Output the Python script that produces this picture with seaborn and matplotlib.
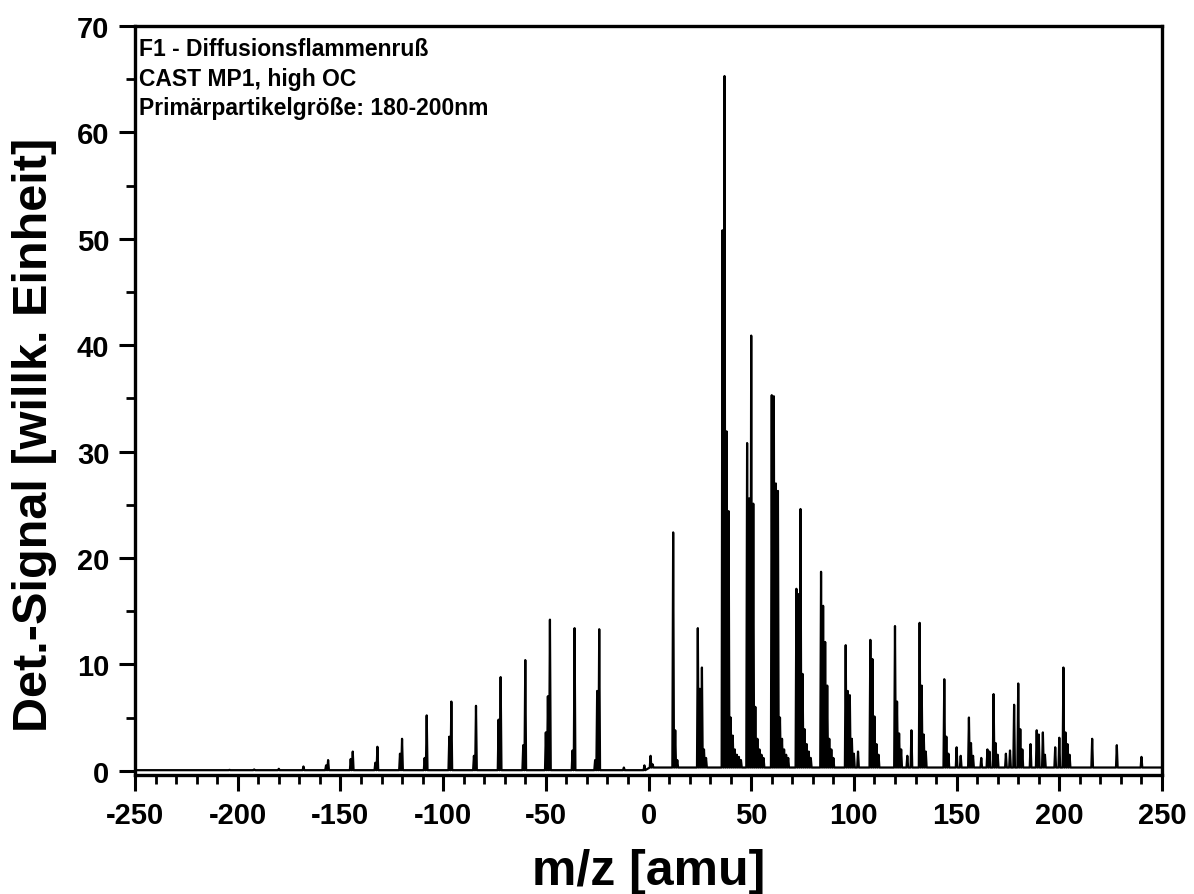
import numpy as np
import pandas as pd
import matplotlib
matplotlib.use("Agg")
import matplotlib.pyplot as plt
import seaborn as sns
from matplotlib.ticker import MultipleLocator

# picchi: m/z e altezza del segnale
mz_neg = [-204, -192, -180, -168, -157, -156, -145, -144, -133, -132, -121, -120,
          -109, -108, -97, -96, -85, -84, -73, -72, -61, -60, -50, -49, -48,
          -37, -36, -26, -25, -24, -12, -2]
h_neg = [0.08, 0.12, 0.18, 0.4, 0.5, 1.0, 1.1, 1.8, 0.75, 2.25, 1.6, 3.0,
         1.2, 5.2, 3.2, 6.5, 1.4, 6.1, 4.8, 8.8, 2.4, 10.4, 3.6, 7.0, 14.2,
         1.9, 13.4, 1.0, 7.5, 13.3, 0.3, 0.5]

mz_pos = [1, 2, 12, 13, 14, 24, 25, 26, 27, 28,
          36, 37, 38, 39, 40, 41, 42, 43, 44, 45,
          48, 49, 50, 51, 52, 53, 54, 55, 56,
          60, 61, 62, 63, 64, 65, 66, 67, 68,
          72, 73, 74, 75, 76, 77, 78, 79,
          84, 85, 86, 87, 88, 89, 90,
          96, 97, 98, 99, 100, 102,
          108, 109, 110, 111, 112,
          120, 121, 122, 123, 126, 128,
          132, 133, 134, 135,
          144, 145, 146, 150, 152,
          156, 157, 158, 162, 165, 166, 168, 169, 170,
          174, 176, 178, 180, 181, 182, 186, 189, 190, 192, 193,
          198, 200, 202, 203, 204, 205, 216, 228, 240]
h_pos = [1.4, 0.6, 22.4, 3.8, 1.0, 13.4, 7.7, 9.7, 2.0, 1.2,
         50.8, 65.3, 31.9, 24.4, 5.0, 3.3, 2.0, 1.5, 1.3, 1.0,
         30.8, 25.6, 40.9, 25.1, 6.0, 3.0, 2.0, 1.5, 1.2,
         35.3, 35.2, 27.0, 26.3, 5.0, 3.0, 2.0, 1.5, 1.2,
         17.1, 16.6, 24.6, 9.1, 3.9, 2.5, 1.8, 1.2,
         18.7, 15.5, 12.1, 8.0, 3.0, 2.0, 1.2,
         11.8, 7.5, 7.1, 3.0, 1.6, 1.8,
         12.3, 10.5, 5.1, 2.5, 1.5,
         13.6, 6.5, 3.5, 2.0, 1.4, 3.8,
         13.9, 8.0, 3.4, 1.8,
         8.6, 3.2, 1.6, 2.2, 1.4,
         5.0, 2.6, 1.4, 1.2, 2.0, 1.8, 7.2, 2.6, 1.5,
         1.6, 1.9, 6.2, 8.2, 3.9, 2.0, 2.5, 3.8, 3.4, 3.6, 1.5,
         2.2, 3.1, 9.7, 3.6, 2.5, 1.5, 3.0, 2.4, 1.3]

mz = np.array(mz_neg + mz_pos, dtype=float)
hh = np.array(h_neg + h_pos, dtype=float)
ordine = np.argsort(mz)
mz, hh = mz[ordine], hh[ordine]

# costruisco lo spettro a bastoncini
w = 0.4
base = np.where(mz > 0, 0.3, 0.05)
xs = [-250.0]
ys = [0.05]
for m, h, b in zip(mz, hh, base):
    xs += [m - w, m, m + w]
    ys += [b, h, b]
xs.append(250.0)
ys.append(0.3)
df = pd.DataFrame({"mz": xs, "signal": ys})

sns.set_theme(style="ticks")
plt.rcParams["font.family"] = ["Liberation Sans", "DejaVu Sans"]
plt.rcParams["font.weight"] = "bold"
plt.rcParams["axes.unicode_minus"] = False
for k in ["text.color", "axes.labelcolor", "xtick.color", "ytick.color", "axes.edgecolor"]:
    plt.rcParams[k] = "black"

fig = plt.figure(figsize=(11.94, 8.95), dpi=100)
ax = fig.add_axes([0.1131, 0.133, 0.8601, 0.8368])
sns.lineplot(data=df, x="mz", y="signal", sort=False, estimator=None,
             color="black", linewidth=1.6, ax=ax)

ax.set_xlim(-250, 250)
ax.set_ylim(-0.4, 70)
ax.xaxis.set_major_locator(MultipleLocator(50))
ax.xaxis.set_minor_locator(MultipleLocator(10))
ax.yaxis.set_major_locator(MultipleLocator(10))
ax.yaxis.set_minor_locator(MultipleLocator(5))
ax.tick_params(which="major", direction="out", length=11.5, width=2.2,
               labelsize=21, color="black", pad=7)
ax.tick_params(which="minor", direction="out", length=6.5, width=2.0, color="black")
for lab in ax.get_xticklabels() + ax.get_yticklabels():
    lab.set_fontweight("bold")
for s in ax.spines.values():
    s.set_linewidth(2.4)
    s.set_color("black")

ax.set_xlabel("m/z [amu]", fontsize=36, fontweight="bold", labelpad=14)
ax.set_ylabel("Det.-Signal [willk. Einheit]", fontsize=35, fontweight="bold")
ax.yaxis.set_label_coords(-0.076, 0.455)

ax.text(0.004, 0.985, "F1 - Diffusionsflammenruß\nCAST MP1, high OC\nPrimärpartikelgröße: 180-200nm",
        transform=ax.transAxes, ha="left", va="top", fontsize=16.5, fontweight="bold",
        linespacing=1.35)

fig.savefig("out.png", dpi=100)
